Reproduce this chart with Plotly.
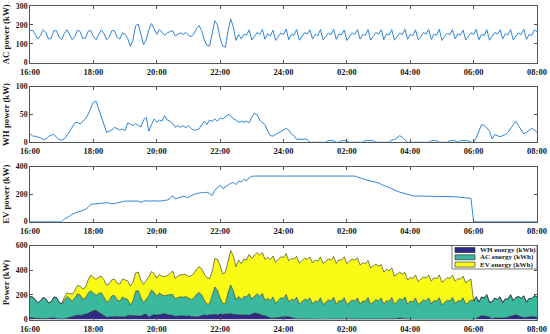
import plotly.graph_objects as go

# ---------------- data (5-minute samples, 16:00 -> 08:00 next day) ----------------
START_HOUR = 16
STEP_MIN = 5
N_SAMPLES = 193
TIME_H = [START_HOUR + i * STEP_MIN / 60 for i in range(N_SAMPLES)]

TICK_HOURS = [16, 18, 20, 22, 24, 26, 28, 30, 32]
TICK_LABELS = ["16:00", "18:00", "20:00", "22:00", "24:00", "02:00", "04:00", "06:00", "08:00"]

AC_POWER = [
    170, 172, 150, 125, 145, 175, 160, 125, 130, 168, 170, 135,   # 16h
    122, 155, 175, 150, 122, 140, 172, 165, 128, 130, 165, 172,   # 17h
    140, 122, 150, 175, 155, 122, 135, 170, 168, 135, 125, 158,   # 18h
    150, 128, 86, 120, 195, 205, 150, 96, 120, 175, 207, 180,     # 19h
    150, 176, 160, 145, 158, 165, 170, 142, 150, 158, 150, 160,   # 20h
    145, 138, 150, 180, 196, 170, 120, 92, 88, 160, 222, 200,     # 21h
    130, 88, 82, 170, 232, 190, 118, 150, 125, 150, 146, 174,     # 22h
    120, 138, 160, 150, 176, 124, 153, 142, 172, 118, 140, 157,   # 23h
    149, 178, 122, 150, 145, 175, 119, 137, 159, 152, 174, 126,   # 00h
    151, 143, 176, 121, 139, 156, 148, 177, 123, 152, 147, 173,   # 01h
    118, 141, 158, 150, 175, 125, 149, 144, 176, 120, 138, 160,   # 02h
    151, 174, 122, 153, 146, 175, 119, 140, 157, 149, 177, 124,   # 03h
    150, 143, 174, 121, 137, 159, 152, 176, 123, 151, 145, 177,   # 04h
    118, 139, 156, 148, 175, 126, 152, 146, 173, 120, 141, 158,   # 05h
    150, 176, 122, 150, 144, 175, 119, 138, 160, 151, 174, 125,   # 06h
    153, 147, 176, 121, 140, 157, 149, 177, 123, 150, 144, 172,   # 07h
    165,                                                          # 08:00
]

WH_POWER = [
    16, 11, 11, 10, 8, 5, 6, 10, 13, 14, 9, 5,        # 16h
    4, 6, 12, 20, 28, 35, 36, 33, 38, 42, 50, 62,     # 17h
    72, 74, 60, 42, 28, 18, 20, 22, 27, 25, 22, 24,   # 18h
    21, 35, 33, 30, 34, 30, 28, 40, 45, 20, 32, 42,   # 19h
    36, 40, 38, 48, 40, 38, 34, 27, 30, 27, 30, 26,   # 20h
    30, 25, 22, 22, 24, 30, 38, 32, 40, 38, 42, 38,   # 21h
    44, 42, 46, 50, 48, 42, 40, 36, 38, 36, 38, 35,   # 22h
    45, 52, 50, 40, 35, 32, 20, 12, 11, 14, 16, 20,   # 23h
    22, 25, 22, 15, 12, 5, 6, 5, 6, 5, 0, 0,          # 00h
    0, 0, 0, 0, 0, 3, 3, 3, 0, 0, 3, 3,               # 01h
    3, 0, 0, 0, 0, 0, 0, 3, 3, 3, 3, 0,               # 02h
    0, 0, 0, 0, 0, 4, 5, 8, 12, 9, 5, 0,              # 03h
    0, 0, 0, 0, 0, 0, 0, 0, 3, 3, 3, 0,               # 04h
    0, 0, 0, 3, 3, 3, 0, 3, 3, 3, 3, 0,               # 05h
    0, 8, 20, 32, 30, 26, 20, 6, 14, 12, 10, 12,      # 06h
    14, 18, 25, 32, 38, 30, 22, 15, 18, 22, 25, 22,   # 07h
    18,                                               # 08:00
]

EV_POWER = [
    0, 0, 0, 0, 0, 0, 0, 0, 0, 0, 0, 0,                               # 16h
    0, 20, 28, 40, 55, 62, 68, 72, 82, 90, 105, 125,                  # 17h
    128, 130, 132, 135, 140, 138, 135, 130, 132, 135, 140, 145,       # 18h
    150, 150, 152, 150, 148, 150, 140, 150, 152, 150, 150, 152,       # 19h
    150, 150, 152, 155, 158, 168, 190, 165, 172, 178, 185, 180,       # 20h
    175, 190, 200, 205, 208, 212, 210, 215, 205, 190, 230, 250,       # 21h
    265, 240, 255, 265, 280, 285, 270, 295, 290, 305, 300, 318,       # 22h
    330, 332, 332, 332, 332, 332, 332, 332, 332, 332, 332, 332,       # 23h
    332, 332, 332, 332, 332, 332, 332, 332, 332, 332, 332, 332,       # 00h
    332, 332, 332, 332, 332, 332, 332, 332, 332, 332, 332, 332,       # 01h
    332, 332, 332, 332, 325, 318, 312, 306, 300, 296, 292, 288,       # 02h
    282, 272, 262, 255, 248, 240, 228, 222, 215, 210, 200, 195,       # 03h
    192, 188, 187, 187, 186, 186, 186, 185, 185, 185, 184, 184,       # 04h
    184, 183, 183, 182, 182, 181, 180, 178, 176, 174, 172, 170,       # 05h
    0, 0, 0, 0, 0, 0, 0, 0, 0, 0, 0, 0,                               # 06h
    0, 0, 0, 0, 0, 0, 0, 0, 0, 0, 0, 0,                               # 07h
    0,                                                                # 08:00
]

PANEL_TITLES = ["AC power (kW)", "WH power (kW)", "EV power (kW)", "Power (kW)"]
PANEL_RANGES = [[0, 300], [0, 100], [0, 400], [0, 600]]
PANEL_TICKS = [[0, 100, 200, 300], [0, 50, 100], [0, 200, 400], [0, 200, 400, 600]]
STACK_NAMES = ["WH energy (kWh)", "AC energy (kWh)", "EV energy (kWh)"]

# ---------------- styling ----------------
W, H = 550, 334
FONT = "Liberation Serif"
LINE_BLUE = "#2f86d6"
STACK_COLORS = ["#2e2a85", "#3bb99f", "#f9fb14"]
AXIS_COLOR = "#555555"

def fy(px):
    return 1 - px / H

def fx(px):
    return px / W

X_DOMAIN = [fx(30), fx(537)]
PANEL_PX = [(6, 62.7), (86.7, 142.3), (166.7, 221.7), (245.5, 319.5)]

fig = go.Figure()

series = [AC_POWER, WH_POWER, EV_POWER]
for k, ys in enumerate(series):
    fig.add_trace(go.Scatter(
        x=TIME_H, y=ys, mode="lines",
        line=dict(color=LINE_BLUE, width=1),
        xaxis=f"x{k + 1}", yaxis=f"y{k + 1}", showlegend=False,
        hoverinfo="skip",
    ))

for name, ys, col in zip(STACK_NAMES, [WH_POWER, AC_POWER, EV_POWER], STACK_COLORS):
    fig.add_trace(go.Scatter(
        x=TIME_H, y=ys, mode="lines", name=name,
        stackgroup="one", fillcolor=col,
        line=dict(color="#262626", width=0.6),
        xaxis="x4", yaxis="y4", showlegend=False,
        hoverinfo="skip",
    ))

tickfont = dict(family=FONT, size=8.5, color="#1a1a1a", weight="bold")
ytickfont = dict(family=FONT, size=7.8, color="#1a1a1a", weight="bold")
common = dict(
    showline=True, linecolor=AXIS_COLOR, linewidth=0.8, mirror="ticks",
    ticks="inside", ticklen=3, tickcolor=AXIS_COLOR, tickwidth=0.8,
    showgrid=False, zeroline=False, automargin=False,
)

layout = dict(
    width=W, height=H,
    margin=dict(l=0, r=0, t=0, b=0),
    paper_bgcolor="white", plot_bgcolor="white",
    showlegend=False,
)

for k in range(4):
    top, bot = PANEL_PX[k]
    xa = dict(common, domain=X_DOMAIN, anchor=f"y{k + 1}", range=[16, 32],
              tickvals=TICK_HOURS, ticktext=TICK_LABELS, tickfont=tickfont,
              ticklabelstandoff=1)
    ya = dict(common, domain=[fy(bot), fy(top)], anchor=f"x{k + 1}",
              range=PANEL_RANGES[k], tickvals=PANEL_TICKS[k], tickfont=ytickfont,
              title=dict(text=PANEL_TITLES[k], standoff=4,
                         font=dict(family=FONT, size=8.8, color="#1a1a1a", weight="bold")))
    layout["xaxis" if k == 0 else f"xaxis{k + 1}"] = xa
    layout["yaxis" if k == 0 else f"yaxis{k + 1}"] = ya

fig.update_layout(**layout)

# ---------------- legend (compact, drawn in paper coords) ----------------
LEG_L, LEG_R, LEG_T, LEG_B = 452, 537, 245.5, 269
fig.add_shape(type="rect", xref="paper", yref="paper",
              x0=fx(LEG_L), x1=fx(LEG_R), y0=fy(LEG_B), y1=fy(LEG_T),
              fillcolor="white", line=dict(color=AXIS_COLOR, width=0.8), layer="above")
for j, (name, col) in enumerate(zip(STACK_NAMES, STACK_COLORS)):
    cy = 250 + 7.3 * j
    fig.add_shape(type="rect", xref="paper", yref="paper",
                  x0=fx(455), x1=fx(475), y0=fy(cy + 2.5), y1=fy(cy - 2.5),
                  fillcolor=col, line=dict(color="#262626", width=0.6), layer="above")
    fig.add_annotation(xref="paper", yref="paper", x=fx(477.5), y=fy(cy),
                       text=name, showarrow=False, xanchor="left", yanchor="middle",
                       font=dict(family=FONT, size=7, color="#1a1a1a", weight="bold"))

fig.write_html("out.html", config={"displayModeBar": False},
               post_script="document.body.style.margin='0';document.body.style.overflow='hidden';")
